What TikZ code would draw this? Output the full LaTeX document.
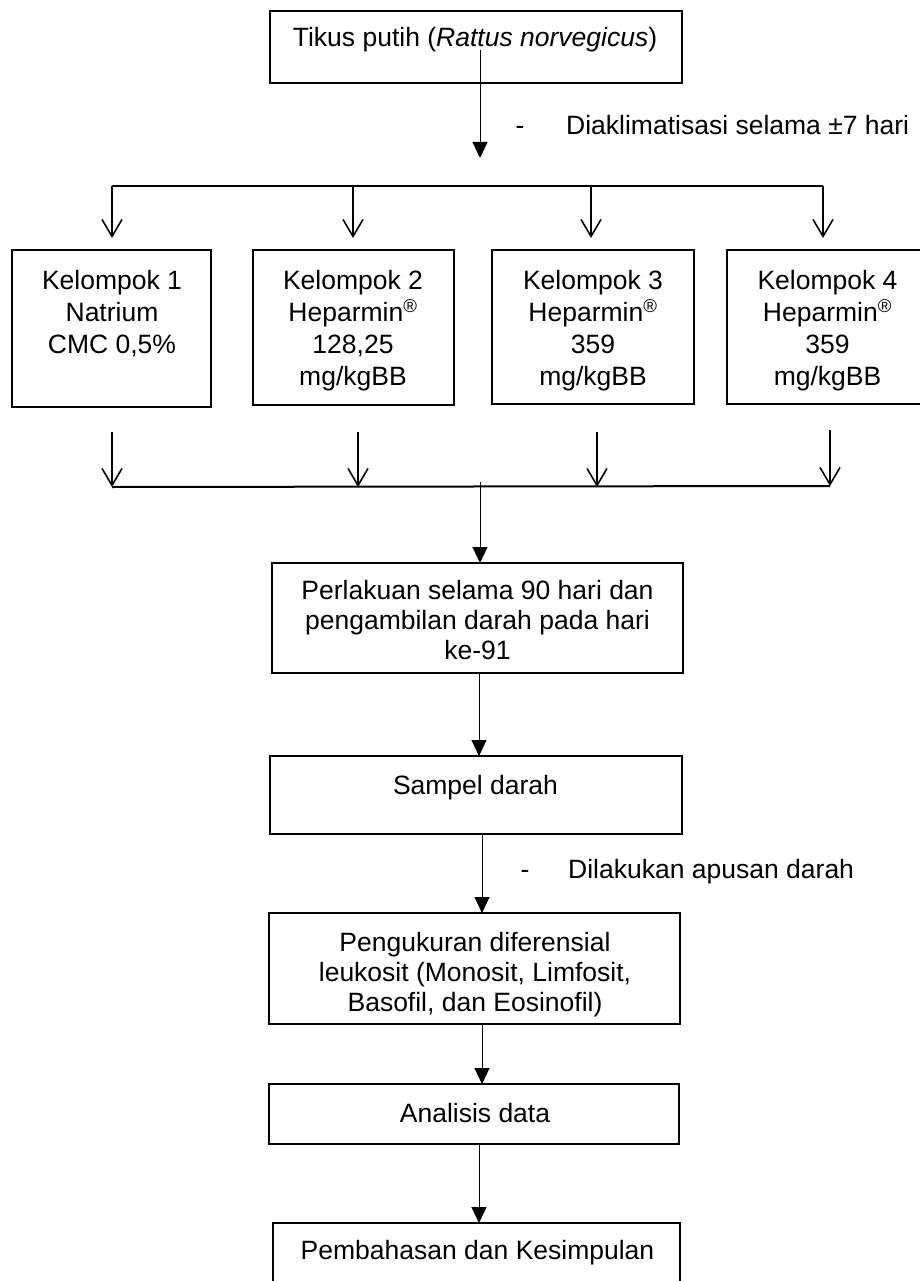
\documentclass[tikz,border=0pt]{standalone}
\usepackage{fontspec}
\setmainfont{Liberation Sans}
\usetikzlibrary{arrows.meta}
\begin{document}
\begin{tikzpicture}[x=1pt,y=-1pt,
  box/.style={draw,line width=2pt,rectangle,inner sep=0pt,outer sep=0pt,anchor=north west},
  txt/.style={inner sep=0pt,anchor=north,align=center,font=\fontsize{26.5}{30}\selectfont},
  gtxt/.style={inner sep=0pt,anchor=north,align=center,font=\fontsize{26.5}{32}\selectfont},
  note/.style={inner sep=0pt,anchor=base west,font=\fontsize{26.5}{30}\selectfont},
  thinarrow/.style={line width=1pt,-{Triangle[length=16pt,width=15pt]}},
  vline/.style={line width=1.6pt,-{Straight Barb[length=17pt,width=20pt]}},
  bus/.style={line width=2pt}]
\useasboundingbox (0,0) rectangle (919,1281);

% boxes
\node[box,minimum width=412pt,minimum height=72pt] (top) at (270,11) {};
\node[box,minimum width=199pt,minimum height=157pt] (g1) at (12,250) {};
\node[box,minimum width=201pt,minimum height=155pt] (g2) at (253,250) {};
\node[box,minimum width=202pt,minimum height=154pt] (g3) at (492,250) {};
\node[box,minimum width=201pt,minimum height=154pt] (g4) at (727,250) {};
\node[box,minimum width=411pt,minimum height=110pt] (perl) at (272,563) {};
\node[box,minimum width=412pt,minimum height=78pt] (samp) at (270,756) {};
\node[box,minimum width=411pt,minimum height=111pt] (peng) at (269,913) {};
\node[box,minimum width=410pt,minimum height=60pt] (anal) at (269,1084) {};
\node[box,minimum width=407pt,minimum height=72pt] (pemb) at (273,1223) {};

% texts
\node[txt] (ttop) at (475,27.5) {Tikus putih (\textit{Rattus norvegicus})};
\node[gtxt] (t1) at (112,270) {Kelompok 1\\Natrium\\CMC 0,5\%};
\node[gtxt] (t2) at (353,270) {Kelompok 2\\Heparmin\textsuperscript{®}\\128,25\\mg/kgBB};
\node[gtxt] (t3) at (593,270) {Kelompok 3\\Heparmin\textsuperscript{®}\\359\\mg/kgBB};
\node[gtxt] (t4) at (827.5,270) {Kelompok 4\\Heparmin\textsuperscript{®}\\359\\mg/kgBB};
\node[txt] (tperl) at (477.5,580.5) {Perlakuan selama 90 hari dan\\pengambilan darah pada hari\\ke-91};
\node[txt] (tsamp) at (475.5,775) {Sampel darah};
\node[txt] (tpeng) at (475,932.5) {Pengukuran diferensial\\leukosit (Monosit, Limfosit,\\Basofil, dan Eosinofil)};
\node[txt] (tanal) at (475,1103) {Analisis data};
\node[txt] (tpemb) at (477.5,1240) {Pembahasan dan Kesimpulan};

\node[note] (n1) at (515.5,135) {-\hspace{41.7pt}Diaklimatisasi selama ±7 hari};
\node[note] (n2) at (520.5,878) {-\hspace{38.7pt}Dilakukan apusan darah};

% top arrow
\coordinate (a0) at (480,50);
\coordinate (a1) at (480,158);
\draw[thinarrow] (a0) -- (a1);

% top bus
\coordinate (b1) at (112,186);
\coordinate (b2) at (353,186);
\coordinate (b3) at (591,186);
\coordinate (b4) at (823,186);
\draw[bus] (b1) -- (b4);
\draw[vline,shorten >=12pt] (b1) -- (b1 |- g1.north);
\draw[vline,shorten >=12pt] (b2) -- (b2 |- g2.north);
\draw[vline,shorten >=12pt] (b3) -- (b3 |- g3.north);
\draw[vline,shorten >=12pt] (b4) -- (b4 |- g4.north);

% bottom bus
\coordinate (d1) at (112,432);
\coordinate (d2) at (358,432);
\coordinate (d3) at (597,432);
\coordinate (d4) at (830,430);
\coordinate (c1) at (112,487);
\coordinate (c2) at (358,487);
\coordinate (c3) at (597,487);
\coordinate (c4) at (830,486);
\draw[vline] (d1) -- (c1);
\draw[vline] (d2) -- (c2);
\draw[vline] (d3) -- (c3);
\draw[vline] (d4) -- (c4);
\draw[bus] (c1) -- (c4);
\coordinate (m) at (480,482);
\draw[thinarrow] (m) -- (m |- perl.north);

% chain
\draw[thinarrow] ([xshift=1.5pt]perl.south) -- ([xshift=1.5pt]perl.south |- samp.north);
\draw[thinarrow] ([xshift=6pt]samp.south) -- ([xshift=6pt]samp.south |- peng.north);
\draw[thinarrow] ([xshift=7.5pt]peng.south) -- ([xshift=7.5pt]peng.south |- anal.north);
\draw[thinarrow] ([xshift=5pt]anal.south) -- ([xshift=5pt]anal.south |- pemb.north);
\end{tikzpicture}
\end{document}
